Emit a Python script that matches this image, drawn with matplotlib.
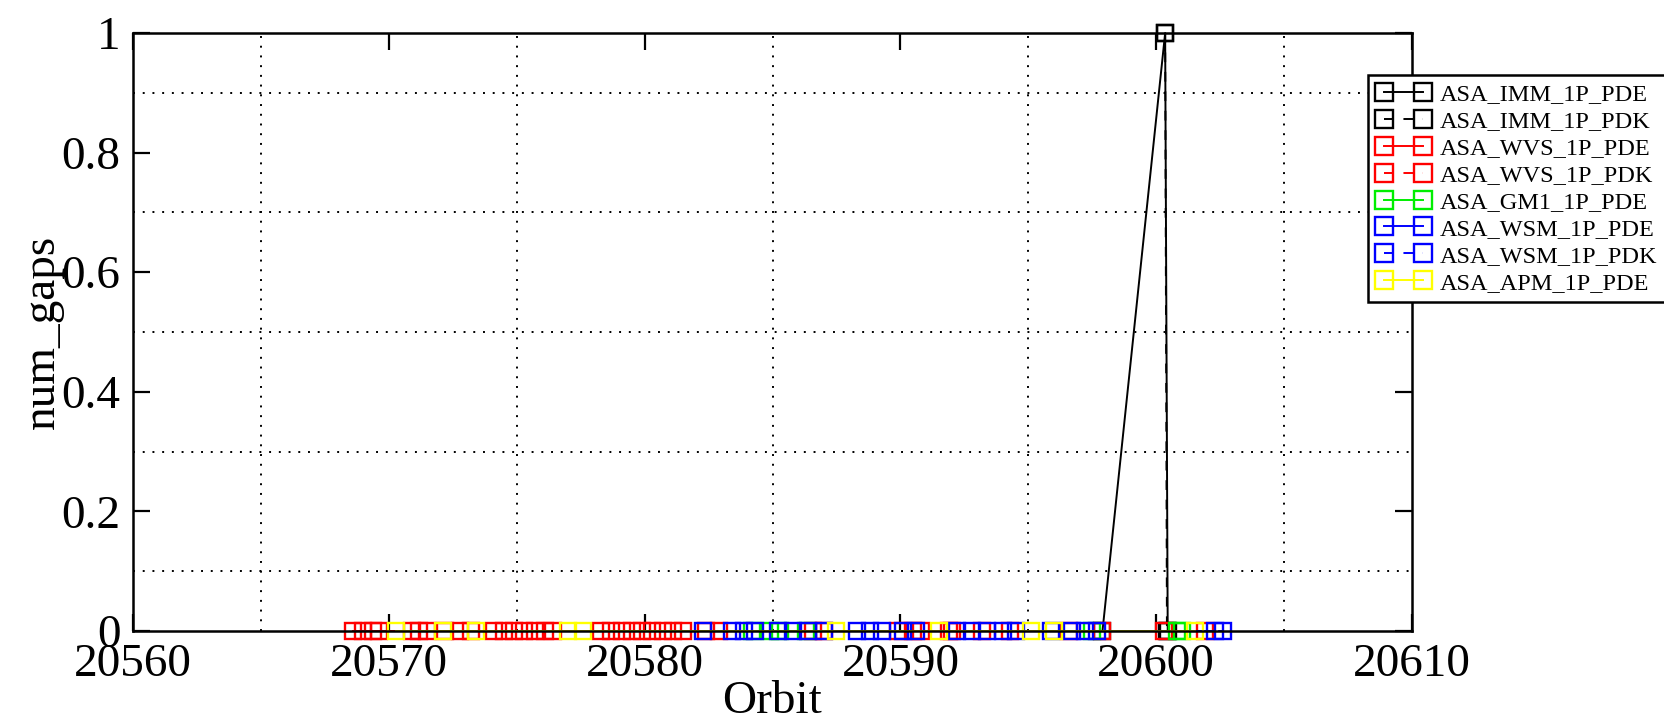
import matplotlib.pyplot as plt
from matplotlib.ticker import MultipleLocator

plt.rcParams['font.family'] = ['Liberation Serif', 'DejaVu Serif']

# orbit positions of each product (num_gaps is 0 unless given)
imm_pde_x = [20597.9, 20600.35, 20600.45]
imm_pde_y = [0, 1, 0]
imm_pdk_x = [20600.35, 20600.42]
imm_pdk_y = [1, 0]

wvs_pde_x = [20568.6, 20569.4, 20570.9, 20571.5, 20572.8, 20574.1, 20574.9,
             20575.7, 20576.4, 20578.3, 20579.1, 20579.9, 20580.7, 20581.5,
             20582.9, 20586.6, 20589.9, 20590.5, 20592.0, 20593.2, 20597.9,
             20600.3, 20601.9]
wvs_pdk_x = [20569.0, 20569.6, 20571.2, 20572.2, 20573.2, 20574.5, 20575.3,
             20576.1, 20578.7, 20579.5, 20580.3, 20581.1, 20582.4, 20587.0,
             20590.8, 20591.9, 20594.3, 20596.6]
gm1_pde_x = [20584.2, 20584.9, 20585.3, 20586.3, 20597.5, 20600.8, 20601.0]
wsm_pde_x = [20582.3, 20583.9, 20585.2, 20586.4, 20588.3, 20589.3, 20590.6,
             20592.8, 20594.0, 20595.9, 20597.2, 20602.3]
wsm_pdk_x = [20583.4, 20584.3, 20585.8, 20587.0, 20588.8, 20590.1, 20592.2,
             20593.4, 20594.5, 20596.7, 20597.7, 20602.6]
apm_pde_x = [20570.3, 20572.1, 20573.4, 20577.0, 20577.6, 20587.5, 20591.5,
             20595.1, 20596.0, 20601.5]

series = [
    ('ASA_IMM_1P_PDE', imm_pde_x, imm_pde_y, 'black', '-'),
    ('ASA_IMM_1P_PDK', imm_pdk_x, imm_pdk_y, 'black', '--'),
    ('ASA_WVS_1P_PDE', wvs_pde_x, None, 'red', '-'),
    ('ASA_WVS_1P_PDK', wvs_pdk_x, None, 'red', '--'),
    ('ASA_GM1_1P_PDE', gm1_pde_x, None, '#00ee00', '-'),
    ('ASA_WSM_1P_PDE', wsm_pde_x, None, 'blue', '-'),
    ('ASA_WSM_1P_PDK', wsm_pdk_x, None, 'blue', '--'),
    ('ASA_APM_1P_PDE', apm_pde_x, None, '#ffff00', '-'),
]

fig = plt.figure(figsize=(16.64, 7.26), dpi=100)
ax = fig.add_axes([133/1664, 1-631/726, (1412-133)/1664, (631-33)/726])

for name, xs, ys, col, ls in series:
    if ys is None:
        ys = [0] * len(xs)
    line, = ax.plot(xs, ys, color=col, linewidth=1.4,
                    marker='s', markersize=12, markerfacecolor='none',
                    markeredgecolor=col, markeredgewidth=1.7,
                    clip_on=False, label=name)
    if ls == '--':
        line.set_linestyle((0, (5, 5)))

ax.set_xlim(20560, 20610)
ax.set_ylim(0, 1)
ax.xaxis.set_major_locator(MultipleLocator(10))
ax.xaxis.set_minor_locator(MultipleLocator(5))
ax.yaxis.set_major_locator(MultipleLocator(0.2))
ax.yaxis.set_minor_locator(MultipleLocator(0.1))
ax.yaxis.set_major_formatter(lambda v, p: '0' if v == 0 else ('1' if v == 1 else f'{v:g}'))

# grid only on minor positions
ax.grid(True, which='minor', color='black', linestyle=(0, (1, 4)), linewidth=1.4)
ax.grid(False, which='major')

ax.tick_params(which='major', direction='in', length=12, width=1.6,
               top=True, right=True, labelsize=34, pad=9)
ax.tick_params(which='minor', length=0)
for s in ax.spines.values():
    s.set_linewidth(1.8)

ax.set_xlabel('Orbit', fontsize=34, labelpad=-4)
ax.set_ylabel('num_gaps', fontsize=34, labelpad=-2)

leg = fig.legend(loc='upper left', bbox_to_anchor=(1368/1664, 1-75/726),
                 fontsize=17.5, frameon=True, fancybox=False, numpoints=2,
                 handlelength=2.2, handletextpad=0.4, labelspacing=0.2,
                 borderpad=0.35, borderaxespad=0, markerscale=1.05)
leg.get_frame().set_edgecolor('black')
leg.get_frame().set_linewidth(1.8)
leg.get_frame().set_alpha(1)

fig.savefig('out.png', dpi=100)
